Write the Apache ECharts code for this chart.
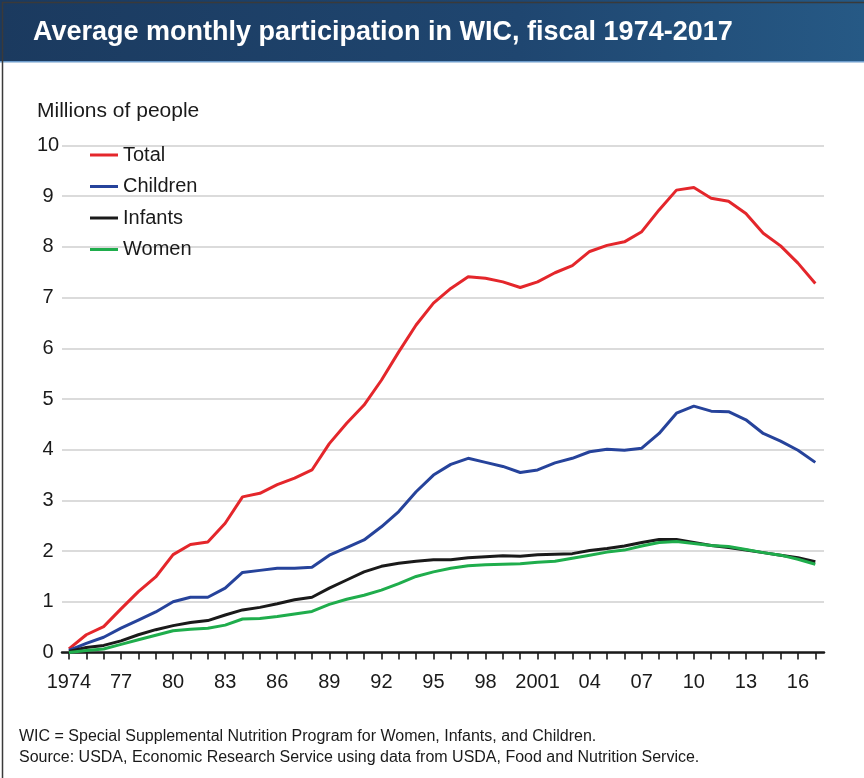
<!DOCTYPE html>
<html>
<head>
<meta charset="utf-8">
<script src="https://cdn.jsdelivr.net/npm/echarts@6/dist/echarts.min.js"></script>
<style>
  html, body { margin: 0; padding: 0; background: #ffffff; }
  #chart { width: 864px; height: 778px; }
</style>
</head>
<body>
<div id="chart"></div>
<script>
// ---- Data (millions of people, fiscal years) ----
var years = [];
for (var y = 1974; y <= 2017; y++) years.push(y);

var total = [0.07, 0.35, 0.51, 0.86, 1.20, 1.49, 1.93, 2.13, 2.18, 2.55,
             3.07, 3.14, 3.31, 3.44, 3.60, 4.12, 4.52, 4.88, 5.37, 5.93,
             6.46, 6.89, 7.18, 7.41, 7.38, 7.31, 7.20, 7.31, 7.49, 7.63,
             7.91, 8.03, 8.10, 8.30, 8.73, 9.12, 9.17, 8.96, 8.90, 8.66,
             8.27, 8.02, 7.68, 7.28];
var children = [0.04, 0.18, 0.30, 0.48, 0.64, 0.80, 1.00, 1.09, 1.09, 1.27,
                1.58, 1.62, 1.66, 1.66, 1.68, 1.92, 2.07, 2.22, 2.48, 2.78,
                3.17, 3.50, 3.71, 3.83, 3.75, 3.67, 3.55, 3.60, 3.74, 3.83,
                3.96, 4.01, 3.99, 4.03, 4.32, 4.72, 4.86, 4.76, 4.75, 4.59,
                4.32, 4.17, 3.99, 3.75];
var infants = [0.02, 0.10, 0.14, 0.23, 0.35, 0.45, 0.53, 0.59, 0.63, 0.74,
               0.84, 0.89, 0.96, 1.04, 1.09, 1.27, 1.43, 1.59, 1.70, 1.76,
               1.80, 1.83, 1.83, 1.87, 1.89, 1.91, 1.90, 1.93, 1.94, 1.95,
               2.01, 2.05, 2.10, 2.17, 2.23, 2.23, 2.17, 2.11, 2.07, 2.02,
               1.97, 1.92, 1.87, 1.79];
var women = [0.00, 0.04, 0.07, 0.16, 0.25, 0.34, 0.43, 0.46, 0.48, 0.54,
             0.66, 0.67, 0.71, 0.76, 0.81, 0.95, 1.05, 1.13, 1.23, 1.36,
             1.50, 1.59, 1.66, 1.71, 1.73, 1.74, 1.75, 1.78, 1.80, 1.86,
             1.92, 1.98, 2.02, 2.10, 2.17, 2.19, 2.15, 2.11, 2.09, 2.03,
             1.97, 1.92, 1.84, 1.74];

var seriesNames = ['Total', 'Children', 'Infants', 'Women'];
var seriesColors = ['#e4262b', '#26439b', '#1a1a1a', '#1fad4c'];
var seriesData = [total, children, infants, women];

var xLabelYears = [1974, 1977, 1980, 1983, 1986, 1989, 1992, 1995, 1998, 2001, 2004, 2007, 2010, 2013, 2016];
var xLabelTexts = ['1974', '77', '80', '83', '86', '89', '92', '95', '98', '2001', '04', '07', '10', '13', '16'];

var titleText = 'Average monthly participation in WIC, fiscal 1974-2017';
var yAxisTitle = 'Millions of people';
var note1 = 'WIC = Special Supplemental Nutrition Program for Women, Infants, and Children.';
var note2 = 'Source: USDA, Economic Research Service using data from USDA, Food and Nutrition Service.';

var FONT = '"Liberation Sans", Arial, Helvetica, sans-serif';

var chart = echarts.init(document.getElementById('chart'), null, { renderer: 'canvas' });

var series = seriesNames.map(function (name, i) {
  return {
    name: name,
    type: 'line',
    data: years.map(function (yr, j) { return [yr, seriesData[i][j]]; }),
    showSymbol: false,
    symbol: 'none',
    lineStyle: { color: seriesColors[i], width: 3 },
    itemStyle: { color: seriesColors[i] },
    z: 2 + i,
    animation: false
  };
});

chart.setOption({
  animation: false,
  backgroundColor: '#ffffff',
  textStyle: { fontFamily: FONT },
  grid: { left: 62, right: 40, top: 145.5, bottom: 125.5, containLabel: false },
  legend: {
    orient: 'vertical',
    left: 90,
    top: 144,
    padding: 0,
    itemWidth: 28,
    itemHeight: 3,
    itemGap: 9.5,
    icon: 'rect',
    selectedMode: false,
    textStyle: { fontFamily: FONT, fontSize: 20, color: '#1a1a1a', lineHeight: 22 },
    data: seriesNames
  },
  xAxis: {
    type: 'value',
    min: 1973.6,
    max: 2017.5,
    splitLine: { show: false },
    axisLine: { show: true, onZero: false, lineStyle: { color: '#1a1a1a', width: 2.5 } },
    axisTick: { show: true, length: 7, lineStyle: { color: '#1a1a1a', width: 1.6 }, customValues: years },
    axisLabel: {
      show: true,
      margin: 20,
      fontFamily: FONT,
      fontSize: 20,
      color: '#1a1a1a',
      customValues: xLabelYears,
      formatter: function (v) {
        var idx = xLabelYears.indexOf(Math.round(v));
        return idx >= 0 ? xLabelTexts[idx] : '';
      }
    }
  },
  yAxis: {
    type: 'value',
    min: 0,
    max: 10,
    interval: 1,
    axisLine: { show: false },
    axisTick: { show: false },
    splitLine: { show: true, lineStyle: { color: '#cfcfcf', width: 1.5 } },
    axisLabel: { fontFamily: FONT, fontSize: 20, color: '#1a1a1a', align: 'center', margin: 14 }
  },
  graphic: [
    {
      type: 'rect',
      left: 0, top: 0, z: 10,
      shape: { width: 864, height: 62 },
      style: {
        fill: new echarts.graphic.LinearGradient(0, 0, 1, 0, [
          { offset: 0, color: '#1b3a5f' },
          { offset: 0.6, color: '#1f4670' },
          { offset: 1, color: '#265985' }
        ])
      }
    },
    {
      type: 'rect',
      left: 0, top: 61, z: 11,
      shape: { width: 864, height: 1.5 },
      style: { fill: '#6d9ccb' }
    },
    {
      type: 'text',
      left: 33, top: 19, z: 12,
      style: { text: titleText, fill: '#ffffff', font: 'bold 27px ' + FONT }
    },
    {
      type: 'text',
      left: 37, top: 101, z: 12,
      style: { text: yAxisTitle, fill: '#1a1a1a', font: '21px ' + FONT }
    },
    {
      type: 'text',
      left: 19, top: 729, z: 12,
      style: { text: note1, fill: '#1a1a1a', font: '16px ' + FONT }
    },
    {
      type: 'text',
      left: 19, top: 750, z: 12,
      style: { text: note2, fill: '#1a1a1a', font: '16px ' + FONT }
    },
    {
      type: 'rect',
      left: 0, top: 0, z: 20, silent: true,
      shape: { x: 0.75, y: 0.75, width: 862.5, height: 776.5 },
      style: { fill: 'none', stroke: '#3a3a3a', lineWidth: 1.5 }
    }
  ],
  series: series
});
</script>
</body>
</html>
